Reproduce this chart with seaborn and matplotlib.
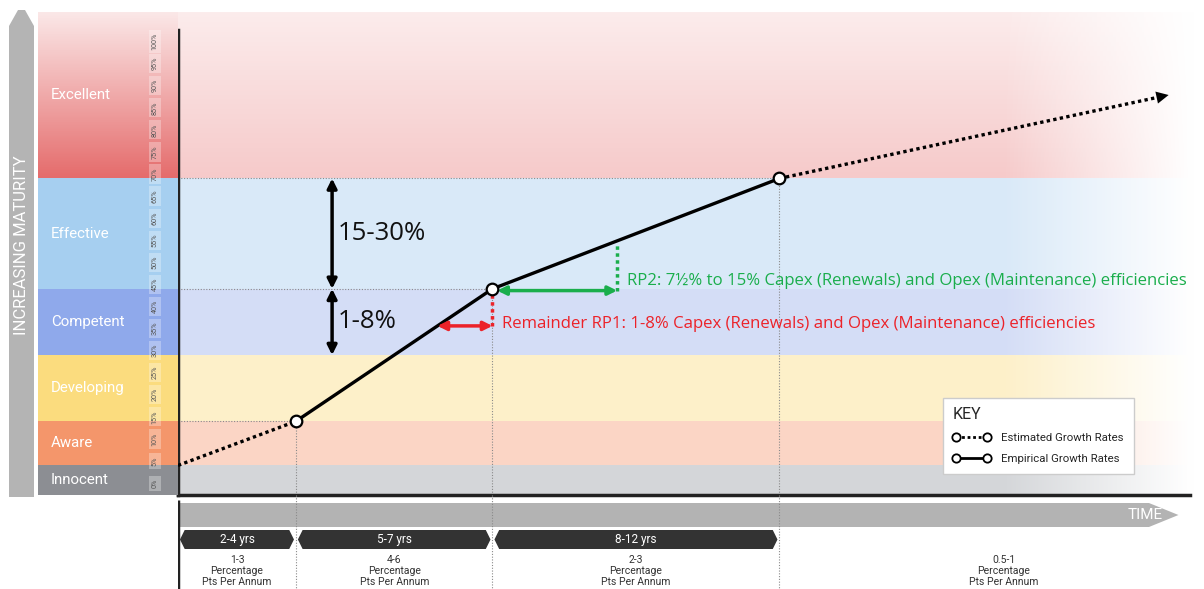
import numpy as np
import pandas as pd
import matplotlib
matplotlib.use("Agg")
import matplotlib.pyplot as plt
import seaborn as sns
from matplotlib.patches import Polygon
from matplotlib.lines import Line2D

# maturity bands (percent of maturity)
band_names = ["Innocent", "Aware", "Developing", "Competent", "Effective", "Excellent"]
band_lo = [0, 5, 15, 30, 45, 70]
band_hi = [5, 15, 30, 45, 70, 100]
band_dark = ["#8c8e93", "#f4966b", "#fbdc7e", "#8fa9eb", "#a6cff0", "#e56c6c"]
band_light = ["#d4d6d9", "#fbd5c5", "#fdf0c9", "#d4ddf6", "#d9e9f8", "#f6caca"]
pct_ticks = list(range(0, 101, 5))

# growth path: years vs maturity %
path_years = [0, 3, 8, 15.3, 25.2]
path_maturity = [5, 15, 45, 70, 88.9]
seg_kind = ["Estimated", "Empirical", "Empirical", "Estimated"]
milestones = [1, 2, 3]

# timeline
period_labels = ["2-4 yrs", "5-7 yrs", "8-12 yrs"]
rate_labels = ["1-3", "4-6", "2-3", "0.5-1"]

# regulatory period annotations
rp_total = (45, 70)
rp1_range = (30, 45)
rp1_level = 36.6
rp2_level = 44.6
rp2_end = 11.17
rp1_text = "Remainder RP1: 1-8% Capex (Renewals) and Opex (Maintenance) efficiencies"
rp2_text = "RP2: 7\u00bd% to 15% Capex (Renewals) and Opex (Maintenance) efficiencies"

sns.set_theme(style="white")
plt.rcParams["font.family"] = ["Open Sans", "DejaVu Sans"]
NARROW = ["Roboto", "Liberation Sans"]

W, H = 1204, 589
fig = plt.figure(figsize=(W / 100, H / 100), dpi=100)


def px_axes(x0, y0, x1, y1):
    return fig.add_axes([x0 / W, 1 - y1 / H, (x1 - x0) / W, (y1 - y0) / H])


def white_ramp(ax, extent, alphas, axis, z):
    if axis == "y":
        img = np.ones((len(alphas), 1, 4))
        img[:, 0, 3] = alphas
    else:
        img = np.ones((1, len(alphas), 4))
        img[0, :, 3] = alphas
    ax.imshow(img, extent=extent, origin="lower", aspect="auto",
              interpolation="bilinear", zorder=z)


YLIM = (-1.7, 107.7)
XLIM = (0, 26.1)

# ---- main chart ----
ax = px_axes(178, 12, 1204, 495)
for lo, hi, c in zip(band_lo, band_hi, band_light):
    lo_ = YLIM[0] if lo == 0 else lo
    hi_ = YLIM[1] if hi == 100 else hi
    ax.axhspan(lo_, hi_, color=c, lw=0, zorder=0)
white_ramp(ax, (XLIM[0], XLIM[1], 70, YLIM[1]), np.linspace(0, 0.65, 128), "y", 0.5)
xs = np.linspace(XLIM[0], XLIM[1], 256)
white_ramp(ax, (XLIM[0], XLIM[1], YLIM[0], YLIM[1]), np.clip((xs - 21) / 4.8, 0, 1), "x", 0.6)

for i in milestones:
    ax.hlines(path_maturity[i], 0, path_years[i], color="#8a8a8a", lw=0.8,
              linestyle=(0, (1, 1.5)), zorder=1)
    ax.vlines(path_years[i], YLIM[0], path_maturity[i], color="#8a8a8a", lw=0.8,
              linestyle=(0, (1, 1.5)), zorder=1)

path = pd.DataFrame({"years": path_years, "maturity": path_maturity})
for i, kind in enumerate(seg_kind):
    seg = path.iloc[i:i + 2].copy()
    if i == len(seg_kind) - 1:
        seg.iloc[1] = seg.iloc[0] + 0.97 * (seg.iloc[1] - seg.iloc[0])
    sns.lineplot(data=seg, x="years", y="maturity", ax=ax, color="black", lw=2.4,
                 linestyle=(0, (1, 1)) if kind == "Estimated" else "-",
                 sort=False, zorder=5)
ax.annotate("", xy=(path_years[-1], path_maturity[-1]),
            xytext=(path_years[-2] + 0.95 * (path_years[-1] - path_years[-2]),
                    path_maturity[-2] + 0.95 * (path_maturity[-1] - path_maturity[-2])),
            arrowprops=dict(arrowstyle="-|>", color="black", lw=0, mutation_scale=22,
                            shrinkA=0, shrinkB=0), zorder=6)
sns.scatterplot(x=[path_years[i] for i in milestones],
                y=[path_maturity[i] for i in milestones],
                ax=ax, s=70, color="white", edgecolor="black", linewidth=1.6, zorder=7)

# black range arrows
arr_x = 3.92
for lo, hi, label in [(rp_total[0], rp_total[1], "15-30%"), (rp1_range[0], rp1_range[1], "1-8%")]:
    ax.annotate("", xy=(arr_x, hi), xytext=(arr_x, lo),
                arrowprops=dict(arrowstyle="<|-|>", color="black", lw=2.5,
                                mutation_scale=14, shrinkA=0, shrinkB=0), zorder=6)
    ax.text(arr_x + 0.13, (lo + hi) / 2, label, fontsize=18.5, color="#111",
            va="center", ha="left", zorder=6)

# RP1 (red)
red = "#ec2229"
rp1_x = np.interp(rp1_level, path_maturity[1:3], path_years[1:3])
ax.annotate("", xy=(path_years[2], rp1_level), xytext=(rp1_x, rp1_level),
            arrowprops=dict(arrowstyle="<|-|>", color=red, lw=2.5, mutation_scale=13,
                            shrinkA=0, shrinkB=0), zorder=6)
ax.vlines(path_years[2], rp1_level, path_maturity[2] - 1, color=red, lw=2.5,
          linestyle=(0, (1, 1)), zorder=6)
ax.text(8.24, rp1_level + 0.5, rp1_text, color=red, fontsize=12.1, va="center", ha="left", zorder=6)

# RP2 (green)
green = "#1aae4c"
rp2_top = np.interp(rp2_end, path_years[2:4], path_maturity[2:4])
ax.annotate("", xy=(rp2_end, rp2_level), xytext=(path_years[2] + 0.12, rp2_level),
            arrowprops=dict(arrowstyle="<|-|>", color=green, lw=2.5, mutation_scale=13,
                            shrinkA=0, shrinkB=0), zorder=6)
ax.vlines(rp2_end, rp2_level, rp2_top - 0.8, color=green, lw=2.5,
          linestyle=(0, (1, 1)), zorder=6)
ax.text(rp2_end + 0.25, 46.8, rp2_text, color=green, fontsize=12.1, va="center", ha="left", zorder=6)

ax.set_xlim(XLIM)
ax.set_ylim(YLIM)
ax.set_xticks([])
ax.set_yticks([])
ax.set_xlabel("")
ax.set_ylabel("")
for s in ["top", "right"]:
    ax.spines[s].set_visible(False)
for s in ["left", "bottom"]:
    ax.spines[s].set_color("#222222")
    ax.spines[s].set_linewidth(2.5)
ax.spines["left"].set_bounds(YLIM[0], 103.7)
ax.spines["bottom"].set_bounds(0, 25.75)

# key
handles = [
    Line2D([0], [0], color="black", lw=2, linestyle=(0, (1, 1)), marker="o",
           mfc="white", mec="black", mew=1.3, ms=6),
    Line2D([0], [0], color="black", lw=2, marker="o",
           mfc="white", mec="black", mew=1.3, ms=6),
]
leg = fig.legend(handles, ["Estimated Growth Rates", "Empirical Growth Rates"],
                 loc="upper left", bbox_to_anchor=(937 / W, 1 - 392 / H), numpoints=2,
                 title="KEY", alignment="left", frameon=True, fancybox=False,
                 handlelength=3.3, borderpad=0.85, labelspacing=0.95, handletextpad=1.0,
                 prop={"family": NARROW, "size": 8.2},
                 title_fontproperties={"family": NARROW, "size": 11.5})
leg.get_frame().set_edgecolor("#cccccc")
leg.get_frame().set_linewidth(1.0)
leg.get_frame().set_alpha(1)

# ---- band label column ----
axl = px_axes(38, 12, 178, 495)
for lo, hi, c, name in zip(band_lo, band_hi, band_dark, band_names):
    lo_ = YLIM[0] if lo == 0 else lo
    hi_ = YLIM[1] if hi == 100 else hi
    axl.axhspan(lo_, hi_, color=c, lw=0, zorder=0)
    axl.text(13, (lo_ + hi_) / 2, name, color="white", fontsize=10.8,
             family=NARROW, va="center", ha="left", zorder=3)
white_ramp(axl, (0, 140, 70, YLIM[1]), np.linspace(0, 0.85, 128), "y", 1)
for p in pct_ticks:
    axl.text(117, p + 1, f"{p}%", rotation=90, fontsize=5.2, color="#555555",
             va="center", ha="center", zorder=4, family=NARROW,
             bbox=dict(boxstyle="square,pad=0.4", fc="white", ec="none", alpha=0.3))
axl.set_xlim(0, 140)
axl.set_ylim(YLIM)
axl.axis("off")

# ---- increasing maturity arrow ----
axa = px_axes(0, 0, 40, H)
axa.set_xlim(0, 40)
axa.set_ylim(H, 0)
axa.add_patch(Polygon([(9, 497), (9, 26), (18, 10), (25, 10), (34, 26), (34, 497)],
                      closed=True, fc="#b4b4b4", ec="none"))
axa.text(22, 245, "INCREASING MATURITY", rotation=90, color="white", fontsize=12,
         family=NARROW, va="center", ha="center")
axa.axis("off")

# ---- time line ----
axt = px_axes(178, 495, 1204, H)
axt.set_xlim(XLIM)
axt.set_ylim(94, 0)
axt.add_patch(Polygon([(0.05, 8), (24.7, 8), (25.45, 20), (24.7, 32), (0.05, 32)],
                      closed=True, fc="#b3b3b3", ec="none", zorder=1))
axt.text(25.05, 20, "TIME", color="white", fontsize=11, family=NARROW,
         va="center", ha="right", zorder=3)
bounds = path_years[:4]
g, d = 0.05, 0.12
for i, lab in enumerate(period_labels):
    x0, x1 = bounds[i] + g, bounds[i + 1] - g
    axt.add_patch(Polygon([(x0, 44.5), (x0 + d, 35), (x1 - d, 35), (x1, 44.5),
                           (x1 - d, 54), (x0 + d, 54)], closed=True, fc="#333333",
                          ec="none", zorder=2))
    axt.text((x0 + x1) / 2, 44.5, lab, color="white", fontsize=8.5, family=NARROW,
             va="center", ha="center", zorder=3)
rate_x = [(bounds[i] + bounds[i + 1]) / 2 for i in range(3)] + [(bounds[3] + XLIM[1] + 0.6) / 2]
for x, r in zip(rate_x, rate_labels):
    axt.text(x, 76, f"{r}\nPercentage\nPts Per Annum", color="#333333", fontsize=7.5,
             family=NARROW, va="center", ha="center", linespacing=1.15)
axt.vlines(bounds[1:], 0, 94, color="#8a8a8a", lw=0.8, linestyle=(0, (1, 1.5)), zorder=4)
axt.vlines(0, 5, 94, color="#222222", lw=2.5, zorder=4)
axt.axis("off")

fig.savefig("out.png", dpi=100)
